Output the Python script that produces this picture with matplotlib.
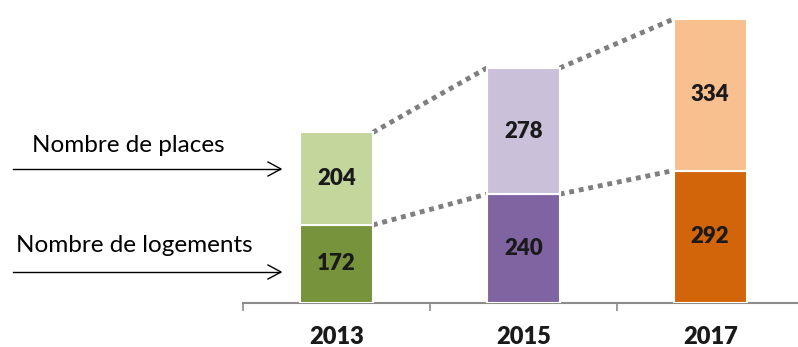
import numpy as np
import matplotlib.pyplot as plt
from matplotlib import transforms

# data
years = ['2013', '2015', '2017']
logements = [172, 240, 292]
places = [204, 278, 334]

col_bottom = ['#77933c', '#8064a2', '#d2640a']
col_top = ['#c3d69b', '#cbc0da', '#f9c08f']

plt.rcParams['font.family'] = ['Lato', 'DejaVu Sans']

fig = plt.figure(figsize=(7.98, 3.47), dpi=100)
ax = fig.add_axes([243/798, 44/347, 555/798, 293/347])

x = np.arange(len(years))
w = 0.39
bottom = np.array(logements)
top = bottom + np.array(places)

ax.bar(x, logements, width=w, color=col_bottom, edgecolor='white', linewidth=1.5, zorder=3)
ax.bar(x, places, width=w, bottom=logements, color=col_top, edgecolor='white', linewidth=1.5, zorder=3)

for i in range(len(years)):
    ax.text(x[i], logements[i]/2, str(logements[i]), ha='center', va='center',
            fontsize=16, fontweight='heavy', color='#1a1a1a', zorder=4)
    ax.text(x[i], logements[i] + places[i]/2, str(places[i]), ha='center', va='center',
            fontsize=16, fontweight='heavy', color='#1a1a1a', zorder=4)

# dotted connectors between bars
for i in range(len(years) - 1):
    for yy in (bottom, top):
        ax.plot([x[i] + w/2, x[i+1] - w/2], [yy[i], yy[i+1]], linestyle=(0, (1, 1)),
                color='#7f7f7f', linewidth=3.5, clip_on=False, zorder=2)

ax.set_xlim(-0.5, 2.47)
ax.set_ylim(0, 626*293/284)

for s in ['top', 'right', 'left']:
    ax.spines[s].set_visible(False)
ax.spines['bottom'].set_color('#8c8c8c')
ax.spines['bottom'].set_linewidth(1.5)
ax.set_yticks([])
ax.set_xticks([-0.5, 0.5, 1.5])
ax.set_xticklabels([])
ax.tick_params(axis='x', length=6, color='#8c8c8c', width=1.2)

# year labels below the axis
lab_tr = transforms.blended_transform_factory(ax.transData, ax.transAxes) + \
    transforms.ScaledTranslation(0, -34/100, fig.dpi_scale_trans)
for i in range(len(years)):
    ax.text(x[i], 0, years[i], ha='center', va='center', fontsize=17,
            fontweight='heavy', color='#1a1a1a', transform=lab_tr)

# labels with arrows on the left
fig.text(32/798, 1 - 145/347, 'Nombre de places', fontsize=17.5, va='center', ha='left', color='black')
fig.text(16/798, 1 - 246/347, 'Nombre de logements', fontsize=17.5, va='center', ha='left', color='black')
for yp in (169, 272):
    fig.add_artist(plt.Line2D([13/798, 280/798], [1 - yp/347, 1 - yp/347], color='black', linewidth=1))
    fig.add_artist(plt.Line2D([268/798, 281/798, 268/798],
                              [1 - (yp - 7)/347, 1 - yp/347, 1 - (yp + 7)/347],
                              color='black', linewidth=1))

fig.savefig('out.png', dpi=100)
